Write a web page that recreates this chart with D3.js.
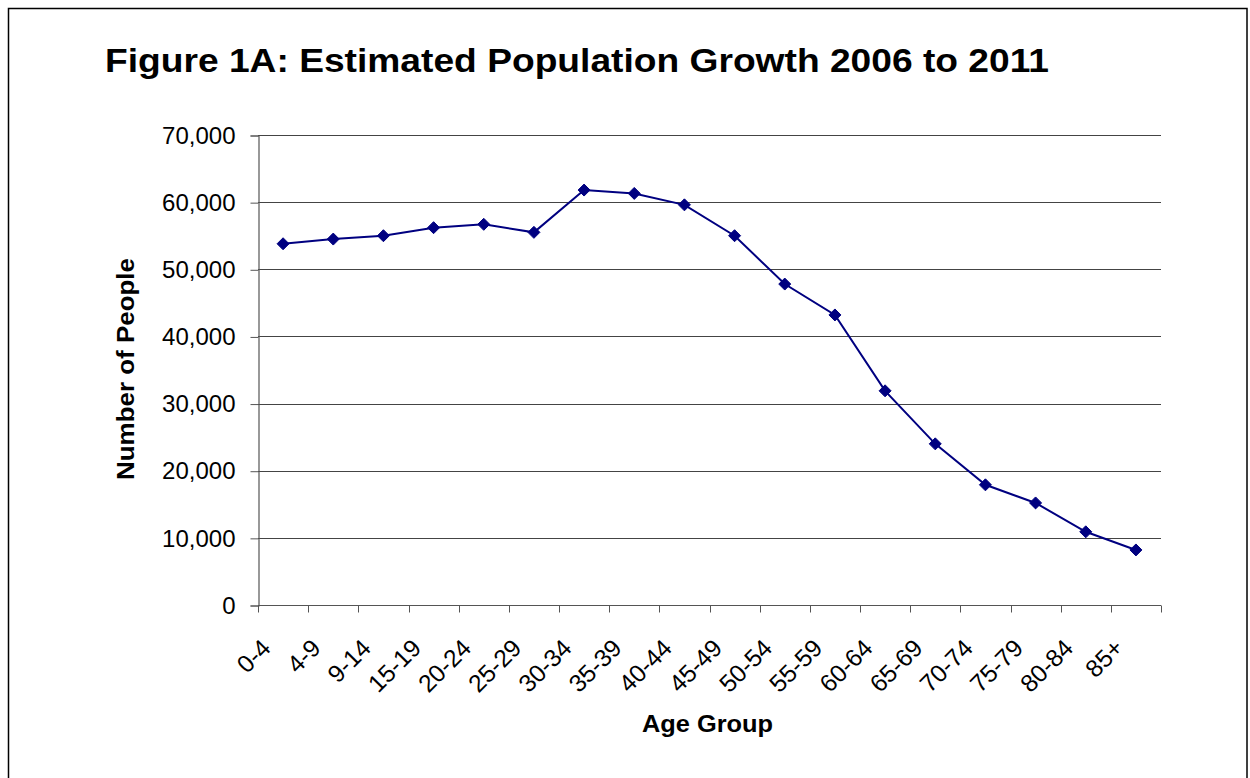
<!DOCTYPE html>
<html>
<head>
<meta charset="utf-8">
<script src="https://cdn.jsdelivr.net/npm/d3@7"></script>
<style>
  html, body { margin: 0; padding: 0; background: #fff; }
  svg { display: block; font-family: "Liberation Sans", Arial, sans-serif; }
</style>
</head>
<body>
<svg id="chart" width="1250" height="778"></svg>
<script>
const categories = ["0-4","4-9","9-14","15-19","20-24","25-29","30-34","35-39","40-44","45-49","50-54","55-59","60-64","65-69","70-74","75-79","80-84","85+"];
const values = [53800, 54500, 55000, 56200, 56700, 55500, 61800, 61300, 59600, 55000, 47800, 43200, 31900, 24000, 17900, 15200, 10900, 8200];
const yTicks = [0, 10000, 20000, 30000, 40000, 50000, 60000, 70000];
const titleText = "Figure 1A: Estimated Population Growth 2006 to 2011";
const xTitle = "Age Group";
const yTitle = "Number of People";

const svg = d3.select("#chart");
const plot = { left: 258, right: 1161, top: 135, bottom: 605 };

// outer border
svg.append("rect")
  .attr("x", 8.5).attr("y", 8.5)
  .attr("width", 1238.5).attr("height", 800)
  .attr("fill", "none").attr("stroke", "#000").attr("stroke-width", 1.5);

// title
svg.append("text")
  .attr("x", 105).attr("y", 72)
  .attr("font-size", 33.5).attr("font-weight", "bold")
  .attr("textLength", 944).attr("lengthAdjust", "spacingAndGlyphs")
  .attr("fill", "#000")
  .text(titleText);

const x = d3.scaleBand().domain(categories).range([plot.left, plot.right]).padding(0);
const y = d3.scaleLinear().domain([0, 70000]).range([plot.bottom, plot.top]);

// gridlines
svg.append("g")
  .selectAll("line")
  .data(yTicks.filter(d => d > 0))
  .join("line")
  .attr("x1", plot.left).attr("x2", plot.right)
  .attr("y1", d => Math.round(y(d)) + 0.5).attr("y2", d => Math.round(y(d)) + 0.5)
  .attr("stroke", "#444").attr("stroke-width", 1);

// y axis
const yAxis = d3.axisLeft(y).tickValues(yTicks).tickSize(8).tickPadding(15)
  .tickFormat(d3.format(","));
const gy = svg.append("g")
  .attr("transform", `translate(${plot.left + 0.5},0.5)`)
  .call(yAxis);
gy.select(".domain").attr("stroke", "#555").attr("stroke-width", 1.2);
gy.selectAll(".tick line").attr("stroke", "#555");
gy.selectAll(".tick text").attr("font-size", 24).attr("fill", "#000")
  .attr("font-family", "Liberation Sans, Arial, sans-serif");

// x axis: tick marks at band boundaries
const gx = svg.append("g").attr("transform", `translate(0,${plot.bottom + 0.5})`);
gx.append("line")
  .attr("x1", plot.left).attr("x2", plot.right)
  .attr("stroke", "#555").attr("stroke-width", 1.2);
const boundaries = categories.map(c => x(c)).concat([x(categories[categories.length - 1]) + x.bandwidth()]);
gx.selectAll("line.tk").data(boundaries).join("line")
  .attr("class", "tk")
  .attr("x1", d => Math.round(d) + 0.5).attr("x2", d => Math.round(d) + 0.5)
  .attr("y1", 0).attr("y2", 7)
  .attr("stroke", "#555");
gx.selectAll("text").data(categories).join("text")
  .attr("transform", d => `translate(${x(d) + x.bandwidth() / 2 - 11},${44}) rotate(-45)`)
  .attr("text-anchor", "end")
  .attr("font-size", 24.5)
  .attr("fill", "#000")
  .text(d => d);

// axis titles
svg.append("text")
  .attr("x", 642).attr("y", 732)
  .attr("font-size", 23.5).attr("font-weight", "bold")
  .attr("textLength", 131).attr("lengthAdjust", "spacingAndGlyphs")
  .text(xTitle);
svg.append("text")
  .attr("transform", `translate(134,480) rotate(-90)`)
  .attr("font-size", 23.5).attr("font-weight", "bold")
  .attr("textLength", 222).attr("lengthAdjust", "spacingAndGlyphs")
  .text(yTitle);

// line
const cx = d => x(d) + x.bandwidth() / 2;
const line = d3.line().x((d, i) => cx(categories[i])).y(d => y(d));
svg.append("path")
  .datum(values)
  .attr("d", line)
  .attr("fill", "none")
  .attr("stroke", "#000080")
  .attr("stroke-width", 2);

// diamond markers
const r = 6;
svg.append("g").selectAll("path")
  .data(values)
  .join("path")
  .attr("d", (d, i) => {
    const px = cx(categories[i]), py = y(d);
    return `M${px},${py - r}L${px + r},${py}L${px},${py + r}L${px - r},${py}Z`;
  })
  .attr("fill", "#000080")
  .attr("stroke", "#000080")
  .attr("stroke-width", 1);
</script>
</body>
</html>
